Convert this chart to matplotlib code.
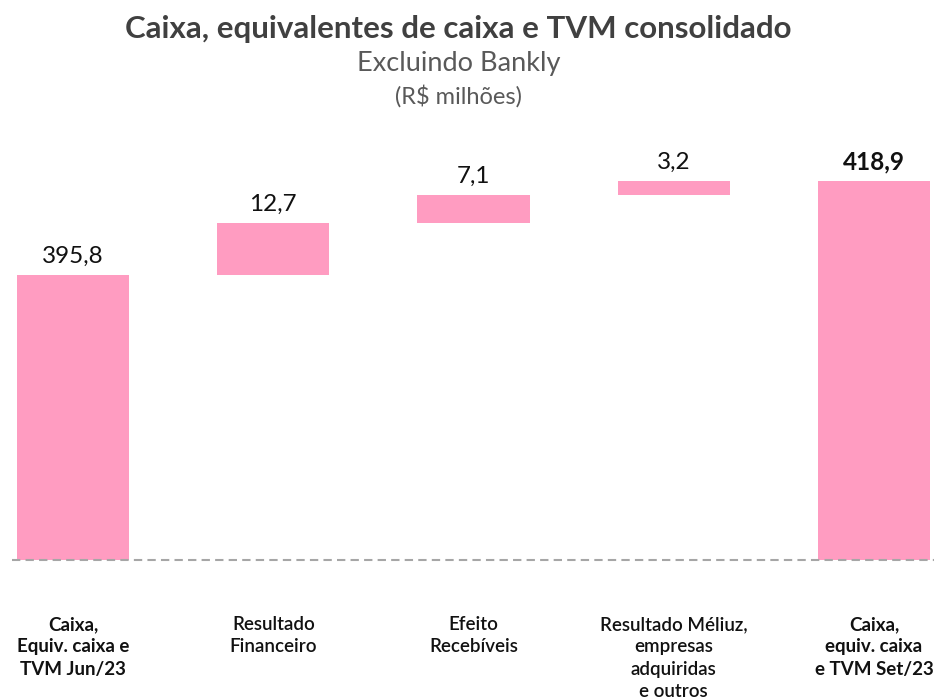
import matplotlib.pyplot as plt
import matplotlib.transforms as mtransforms

# Data
categories = ['Caixa,\nEquiv. caixa e\nTVM Jun/23',
              'Resultado\nFinanceiro',
              'Efeito\nRecebíveis',
              'Resultado Méliuz,\nempresas\nadquiridas\ne outros',
              'Caixa,\nequiv. caixa\ne TVM Set/23']
start_value = 395.8
changes = [12.7, 7.1, 3.2]
end_value = 418.9
value_labels = ['395,8', '12,7', '7,1', '3,2', '418,9']

plt.rcParams['font.family'] = ['Lato', 'DejaVu Sans']

pink = '#FF9CC1'

# Waterfall layout
heights = [start_value] + changes + [end_value]
bottoms = [0]
running = start_value
for c in changes:
    bottoms.append(running)
    running += c
bottoms.append(0)
tops = [b + h for b, h in zip(bottoms, heights)]
x = list(range(len(categories)))

fig = plt.figure(figsize=(9.34, 7.0), dpi=100)
ax = fig.add_axes([12 / 934, 0.2, 1 - 12 / 934, 0.614])

ax.bar(x, heights, bottom=bottoms, width=0.56, color=pink, edgecolor='none')

ax.set_xlim(-0.305, 4.30)
ax.set_ylim(325.8, 431.4)
ax.axhline(325.8, color='#a6a6a6', linestyle=(0, (4, 2.5)), linewidth=1.5, clip_on=False)

for i, (t, lab) in enumerate(zip(tops, value_labels)):
    ax.text(x[i], t + 2.0, lab, ha='center', va='bottom', fontsize=17.5,
            color='#111111', fontweight='bold' if i == len(x) - 1 else 'normal')

trans = mtransforms.blended_transform_factory(ax.transData, ax.transAxes)
for i, cat in enumerate(categories):
    bold = i in (0, len(categories) - 1)
    ax.text(x[i], -0.13, cat, transform=trans, ha='center', va='top',
            fontsize=13.5, fontweight='bold' if bold else 'semibold',
            color='#111111', linespacing=1.38)

ax.axis('off')

# Titles
fig.text(0.491, 1 - 29 / 700, 'Caixa, equivalentes de caixa e TVM consolidado',
         ha='center', va='center', fontsize=22.5, fontweight='bold', color='#404040')
fig.text(0.491, 1 - 63 / 700, 'Excluindo Bankly', ha='center', va='center',
         fontsize=19.5, color='#595959')
fig.text(0.491, 1 - 96 / 700, '(R$ milhões)', ha='center', va='center',
         fontsize=17, color='#595959')

plt.savefig('out.png', dpi=100)
